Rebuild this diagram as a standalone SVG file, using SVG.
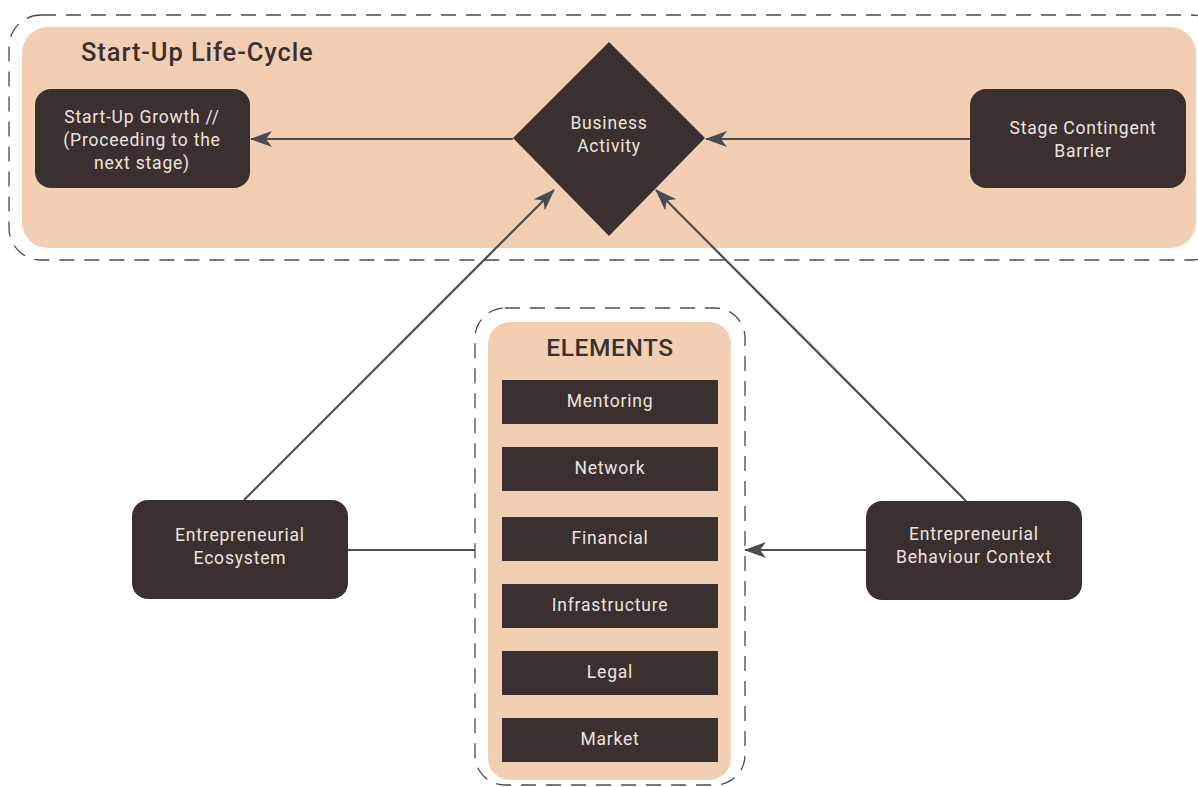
<svg xmlns="http://www.w3.org/2000/svg" width="1198" height="787" viewBox="0 0 1198 787">
<defs>
<style>
.dash{fill:none;stroke:#4a4a4a;stroke-width:1.3;stroke-dasharray:15 10}
.peach{fill:#f2cfb3}
.node{fill:#3b3030}
.lbl{font-family:Roboto,"Liberation Sans",sans-serif;font-size:17.5px;fill:#ede4df;text-anchor:middle;dominant-baseline:central;letter-spacing:0.8px}
.title{font-family:Roboto,"Liberation Sans",sans-serif;fill:#3b3030;font-weight:500}
.conn{stroke:#4a4c4f;stroke-width:2.2;fill:none}
</style>
<marker id="ah" viewBox="0 0 22 16" refX="21" refY="8" markerWidth="22" markerHeight="16" markerUnits="userSpaceOnUse" orient="auto">
<path d="M0,0 L22,8 L0,16 L6,8 Z" fill="#4a4c4f"/>
</marker>
</defs>
<rect width="1198" height="787" fill="#ffffff"/>
<g id="lifecycle">
<rect class="dash" x="9" y="15" width="1215" height="245" rx="32"/>
<rect class="peach" x="22" y="27" width="1174" height="221" rx="26"/>
<text class="title" x="81" y="61" font-size="25.5" letter-spacing="0.9">Start-Up Life-Cycle</text>
</g>
<g id="elements">
<rect class="dash" x="475" y="308" width="270" height="477" rx="30"/>
<rect class="peach" x="488" y="322" width="243" height="458" rx="22"/>
<text class="title" x="610" y="356" font-size="24.5" text-anchor="middle" letter-spacing="0.6">ELEMENTS</text>
</g>
<g id="connectors">
<line class="conn" x1="513" y1="139" x2="251" y2="139" marker-end="url(#ah)"/>
<line class="conn" x1="970" y1="139" x2="706" y2="139" marker-end="url(#ah)"/>
<line class="conn" x1="244" y1="500" x2="554" y2="190" marker-end="url(#ah)"/>
<line class="conn" x1="966" y1="501" x2="656" y2="190" marker-end="url(#ah)"/>
<line class="conn" x1="348" y1="550" x2="475" y2="550"/>
<line class="conn" x1="866" y1="550" x2="745" y2="550" marker-end="url(#ah)"/>
</g>
<g id="growth">
<rect class="node" x="35" y="89" width="215" height="99" rx="16"/>
<text class="lbl" x="142" y="117">Start-Up Growth //</text>
<text class="lbl" x="142" y="140">(Proceeding to the</text>
<text class="lbl" x="142" y="163">next stage)</text>
</g>
<g id="activity">
<polygon class="node" points="609,42 705,138 609,236 513,138"/>
<text class="lbl" x="609" y="123">Business</text>
<text class="lbl" x="609" y="146">Activity</text>
</g>
<g id="barrier">
<rect class="node" x="970" y="89" width="216" height="99" rx="16"/>
<text class="lbl" x="1083" y="128">Stage Contingent</text>
<text class="lbl" x="1083" y="151">Barrier</text>
</g>
<g id="ecosystem">
<rect class="node" x="132" y="500" width="216" height="99" rx="16"/>
<text class="lbl" x="240" y="535">Entrepreneurial</text>
<text class="lbl" x="240" y="558">Ecosystem</text>
</g>
<g id="behaviour">
<rect class="node" x="866" y="501" width="216" height="99" rx="16"/>
<text class="lbl" x="974" y="534">Entrepreneurial</text>
<text class="lbl" x="974" y="557">Behaviour Context</text>
</g>
<g id="mentoring"><rect class="node" x="502" y="380" width="216" height="44"/><text class="lbl" x="610" y="401">Mentoring</text></g>
<g id="network"><rect class="node" x="502" y="447" width="216" height="44"/><text class="lbl" x="610" y="468">Network</text></g>
<g id="financial"><rect class="node" x="502" y="517" width="216" height="44"/><text class="lbl" x="610" y="538">Financial</text></g>
<g id="infrastructure"><rect class="node" x="502" y="584" width="216" height="44"/><text class="lbl" x="610" y="605">Infrastructure</text></g>
<g id="legal"><rect class="node" x="502" y="651" width="216" height="44"/><text class="lbl" x="610" y="672">Legal</text></g>
<g id="market"><rect class="node" x="502" y="718" width="216" height="44"/><text class="lbl" x="610" y="739">Market</text></g>
</svg>
